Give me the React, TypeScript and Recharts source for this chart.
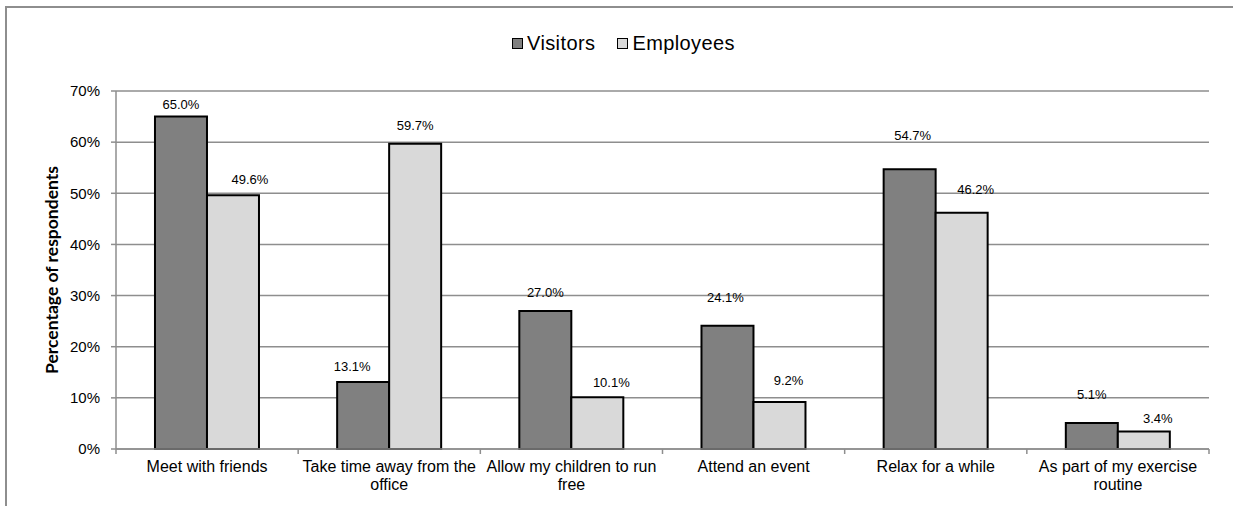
import { BarChart, Bar, XAxis, YAxis, CartesianGrid, Legend, LabelList, Text } from "recharts";

const categories = [
  "Meet with friends",
  "Take time away from the office",
  "Allow my children to run free",
  "Attend an event",
  "Relax for a while",
  "As part of my exercise routine",
];
const visitors = [65.0, 13.1, 27.0, 24.1, 54.7, 5.1];
const employees = [49.6, 59.7, 10.1, 9.2, 46.2, 3.4];
const yTicks = [0, 10, 20, 30, 40, 50, 60, 70];

// hand-placed data labels in the original: x shift and lift above bar top
const visitorLabelShift = [0, -11, 0, -2, 3, 0];
const visitorLabelLift = [12, 16, 18, 28, 34, 28];
const employeeLabelShift = [17, 0, 14, 9, 14, 14];
const employeeLabelLift = [16, 18, 15, 21, 23, 13];

const FONT = "'Liberation Sans', Arial, sans-serif";
const GRID = "#8e8e8e";
const W = 1233;
const H = 506;
const M = { top: 91, right: 24, bottom: 0, left: 56 };
const Y_AXIS_W = 60;
const BAND = (W - M.left - Y_AXIS_W - M.right) / categories.length;

const data = categories.map((name, i) => ({
  name,
  Visitors: visitors[i],
  Employees: employees[i],
}));

const makeLabel = (shift: number[], lift: number[]) => (props: any) => {
  const { x, y, width, value, index } = props;
  return (
    <text
      x={x + width / 2 + shift[index]}
      y={y - lift[index]}
      textAnchor="middle"
      dominantBaseline="central"
      fontFamily={FONT}
      fontSize={13}
      fill="#000"
    >
      {Number(value).toFixed(1)}%
    </text>
  );
};

const CategoryTick = (props: any) => {
  const { x, y, payload, index } = props;
  const left = x - BAND / 2;
  return (
    <g>
      <line x1={left} x2={left} y1={y} y2={y + 5} stroke={GRID} strokeWidth={1.5} />
      {index === categories.length - 1 && (
        <line x1={left + BAND} x2={left + BAND} y1={y} y2={y + 5} stroke={GRID} strokeWidth={1.5} />
      )}
      <Text
        x={x}
        y={y + 12}
        width={BAND}
        textAnchor="middle"
        verticalAnchor="start"
        lineHeight={17.7}
        fontSize={16}
        fontFamily={FONT}
        fill="#000"
        style={{ fontSize: 16, fontFamily: FONT }}
      >
        {payload.value}
      </Text>
    </g>
  );
};

const LegendContent = () => (
  <div style={{ display: "flex", alignItems: "center", fontFamily: FONT, fontSize: 20, letterSpacing: 0.4, color: "#000" }}>
    {[
      { name: "Visitors", fill: "#808080" },
      { name: "Employees", fill: "#d9d9d9" },
    ].map((s, i) => (
      <span key={s.name} style={{ display: "flex", alignItems: "center", marginRight: i === 0 ? 22 : 0 }}>
        <span
          style={{
            display: "inline-block",
            width: 9,
            height: 9,
            background: s.fill,
            border: "1.5px solid #000",
            marginRight: 4,
          }}
        />
        {s.name}
      </span>
    ))}
  </div>
);

const YLabel = (props: any) => {
  const { viewBox } = props;
  const cx = viewBox.x - 5;
  const cy = viewBox.y + viewBox.height / 2;
  return (
    <text
      x={cx}
      y={cy}
      transform={`rotate(-90 ${cx} ${cy})`}
      textAnchor="middle"
      dominantBaseline="central"
      fontFamily="Lato, sans-serif"
      fontWeight={700}
      fontSize={17.5}
      fill="#000"
    >
      Percentage of respondents
    </text>
  );
};

export default function App() {
  return (
    <div style={{ position: "absolute", left: 0, top: 0, width: W, height: H, overflow: "hidden", background: "#fff" }}>
      <div
        style={{
          position: "absolute",
          left: 5,
          top: 6,
          width: 1300,
          height: 600,
          border: `2px solid ${GRID}`,
          boxSizing: "border-box",
        }}
      />
      <div style={{ position: "absolute", left: 0, top: 0 }}>
        <BarChart width={W} height={H} data={data} margin={M} barCategoryGap="21.4%" barGap={0}>
          <CartesianGrid vertical={false} stroke={GRID} strokeWidth={1.5} />
          <XAxis
            dataKey="name"
            height={57}
            tickSize={0}
            tickMargin={0}
            tickLine={false}
            axisLine={{ stroke: GRID, strokeWidth: 1.5 }}
            tick={<CategoryTick />}
            interval={0}
          />
          <YAxis
            width={Y_AXIS_W}
            domain={[0, 70]}
            ticks={yTicks}
            tickSize={5}
            tickMargin={11}
            tickFormatter={(v) => `${v}%`}
            tick={{ fontSize: 15, fontFamily: FONT, fill: "#000" }}
            axisLine={{ stroke: GRID, strokeWidth: 1.5 }}
            tickLine={{ stroke: GRID, strokeWidth: 1.5 }}
            label={<YLabel />}
          />
          <Legend
            verticalAlign="middle"
            align="center"
            layout="horizontal"
            content={<LegendContent />}
            wrapperStyle={{ top: 32, left: 512, width: "auto", height: "auto" }}
          />
          <Bar dataKey="Visitors" fill="#808080" stroke="#000" strokeWidth={2} isAnimationActive={false}>
            <LabelList dataKey="Visitors" content={makeLabel(visitorLabelShift, visitorLabelLift)} />
          </Bar>
          <Bar dataKey="Employees" fill="#d9d9d9" stroke="#000" strokeWidth={2} isAnimationActive={false}>
            <LabelList dataKey="Employees" content={makeLabel(employeeLabelShift, employeeLabelLift)} />
          </Bar>
        </BarChart>
      </div>
    </div>
  );
}
